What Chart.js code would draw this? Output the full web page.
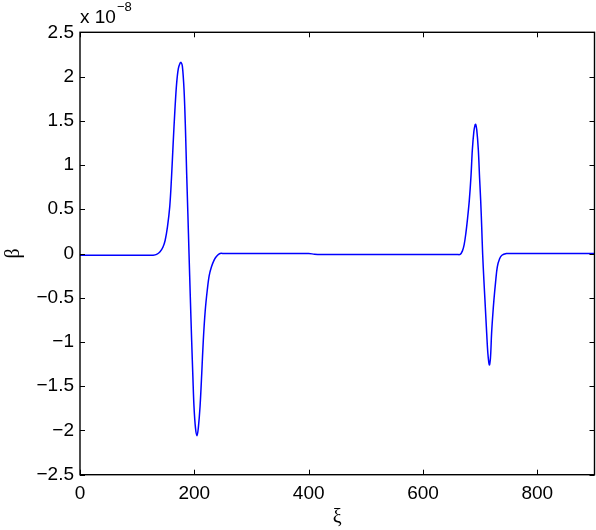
<!DOCTYPE html>
<html>
<head>
<meta charset="utf-8">
<script src="https://cdn.jsdelivr.net/npm/chart.js@4/dist/chart.umd.min.js"></script>
<style>
  html, body { margin: 0; padding: 0; background: #fff; }
  #wrap { width: 596px; height: 530px; position: relative; }
</style>
</head>
<body>
<div id="wrap"><canvas id="c" width="596" height="530"></canvas></div>
<script>
// xi positions (horizontal axis)
const xi = [
  0, 100, 120, 128, 134, 140, 145, 149, 153, 157, 160, 163, 166, 169, 172, 175, 176.7,
  179, 182, 184.5, 186.6, 188.7, 190.7, 193, 195.3, 197.5, 199.4, 202, 204.7,
  207, 210, 213, 215.7, 219, 222.7, 226, 230, 235, 239, 245, 252, 262, 280, 400, 410, 420,
  600, 645, 655, 660, 665, 669, 672, 675, 678, 681, 684, 686.3, 689, 691, 692.1, 694, 696.8,
  699, 700.9, 702.7, 704.3, 706.5, 708.4, 711.4, 713.5, 716, 718, 720, 722, 724,
  727, 730, 734, 738, 746, 752, 762, 780, 900
];
// beta values, in units of 1e-8
const beta = [
  -0.02, -0.02, -0.02, -0.02, -0.01, 0.02, 0.07, 0.15, 0.3, 0.53, 0.85, 1.25, 1.62, 1.92, 2.09, 2.15, 2.16,
  2.12, 1.85, 1.4, 0.9, 0.45, 0, -0.5, -0.98, -1.4, -1.73, -1.97, -2.06,
  -1.97, -1.73, -1.35, -0.98, -0.65, -0.41, -0.25, -0.15, -0.07, -0.03, 0, 0, 0, 0, 0, -0.008, -0.012,
  -0.012, -0.012, -0.012, -0.012, -0.01, 0.03, 0.1, 0.23, 0.4, 0.6, 0.88, 1.17, 1.38, 1.45, 1.46, 1.4, 1.17,
  0.85, 0.6, 0.3, 0, -0.3, -0.53, -0.9, -1.13, -1.26, -1.18, -0.9, -0.7, -0.53,
  -0.32, -0.15, -0.06, -0.02, 0, 0, 0, 0, 0
];
const xTicks = [0, 200, 400, 600, 800];
const yTicks = [-2.5, -2, -1.5, -1, -0.5, 0, 0.5, 1, 1.5, 2, 2.5];
const xLabel = 'ξ';
const yLabel = 'β';
const expBase = 'x 10';
const expPow = '−8';

const FONT = '"Liberation Sans", Arial, Helvetica, sans-serif';
const SERIF = '"Liberation Serif", "DejaVu Serif", serif';

const points = xi.map((x, i) => ({ x: x, y: beta[i] }));

const frameTicks = {
  id: 'frameTicks',
  afterDraw(chart) {
    const { ctx, chartArea: a, scales: { x, y } } = chart;
    ctx.save();
    ctx.strokeStyle = '#000';
    ctx.lineWidth = 1;
    const L = 5;
    ctx.beginPath();
    xTicks.forEach(v => {
      const px = Math.round(x.getPixelForValue(v)) + 0.5;
      ctx.moveTo(px, a.bottom); ctx.lineTo(px, a.bottom - L);
      ctx.moveTo(px, a.top); ctx.lineTo(px, a.top + L);
    });
    yTicks.forEach(v => {
      const py = Math.round(y.getPixelForValue(v)) + 0.5;
      ctx.moveTo(a.left, py); ctx.lineTo(a.left + L, py);
      ctx.moveTo(a.right, py); ctx.lineTo(a.right - L, py);
    });
    ctx.stroke();
    ctx.lineWidth = 1.4;
    ctx.strokeRect(a.left, a.top, a.right - a.left, a.bottom - a.top);
    // exponent label
    ctx.fillStyle = '#000';
    ctx.textBaseline = 'alphabetic';
    ctx.textAlign = 'left';
    ctx.font = '19px ' + FONT;
    ctx.fillText(expBase, a.left, 23);
    const w = ctx.measureText(expBase).width;
    ctx.font = '13px ' + FONT;
    ctx.fillText(expPow, a.left + w + 1, 11);
    ctx.restore();
  }
};

new Chart(document.getElementById('c'), {
  type: 'line',
  data: {
    datasets: [{
      data: points,
      borderColor: '#0000ff',
      borderWidth: 1.5,
      pointRadius: 0,
      fill: false,
      tension: 0.35
    }]
  },
  options: {
    responsive: false,
    animation: false,
    devicePixelRatio: 1,
    layout: { padding: { top: 32.3, right: 1.5, bottom: 0, left: 0 } },
    plugins: { legend: { display: false }, tooltip: { enabled: false } },
    scales: {
      x: {
        type: 'linear',
        min: 0, max: 900,
        afterBuildTicks: s => { s.ticks = xTicks.map(v => ({ value: v })); },
        afterFit: s => { s.height = 55.3; },
        grid: { display: false, drawTicks: false },
        border: { display: false },
        ticks: {
          color: '#000',
          font: { family: FONT, size: 19 },
          padding: 8,
          maxRotation: 0,
          autoSkip: false,
          callback: v => String(v)
        },
        title: {
          display: true, text: xLabel, color: '#000',
          font: { family: SERIF, size: 20 },
          padding: { top: 0, bottom: 0 }
        }
      },
      y: {
        type: 'linear',
        min: -2.5, max: 2.5,
        afterBuildTicks: s => { s.ticks = yTicks.map(v => ({ value: v })); },
        afterFit: s => { s.width = 80; },
        grid: { display: false, drawTicks: false },
        border: { display: false },
        ticks: {
          color: '#000',
          font: { family: FONT, size: 19 },
          padding: 6,
          autoSkip: false,
          callback: v => String(v).replace('-', '−')
        },
        title: {
          display: true, text: yLabel, color: '#000',
          font: { family: SERIF, size: 20 },
          padding: { top: 2, bottom: 0 }
        }
      }
    }
  },
  plugins: [frameTicks]
});
</script>
</body>
</html>
